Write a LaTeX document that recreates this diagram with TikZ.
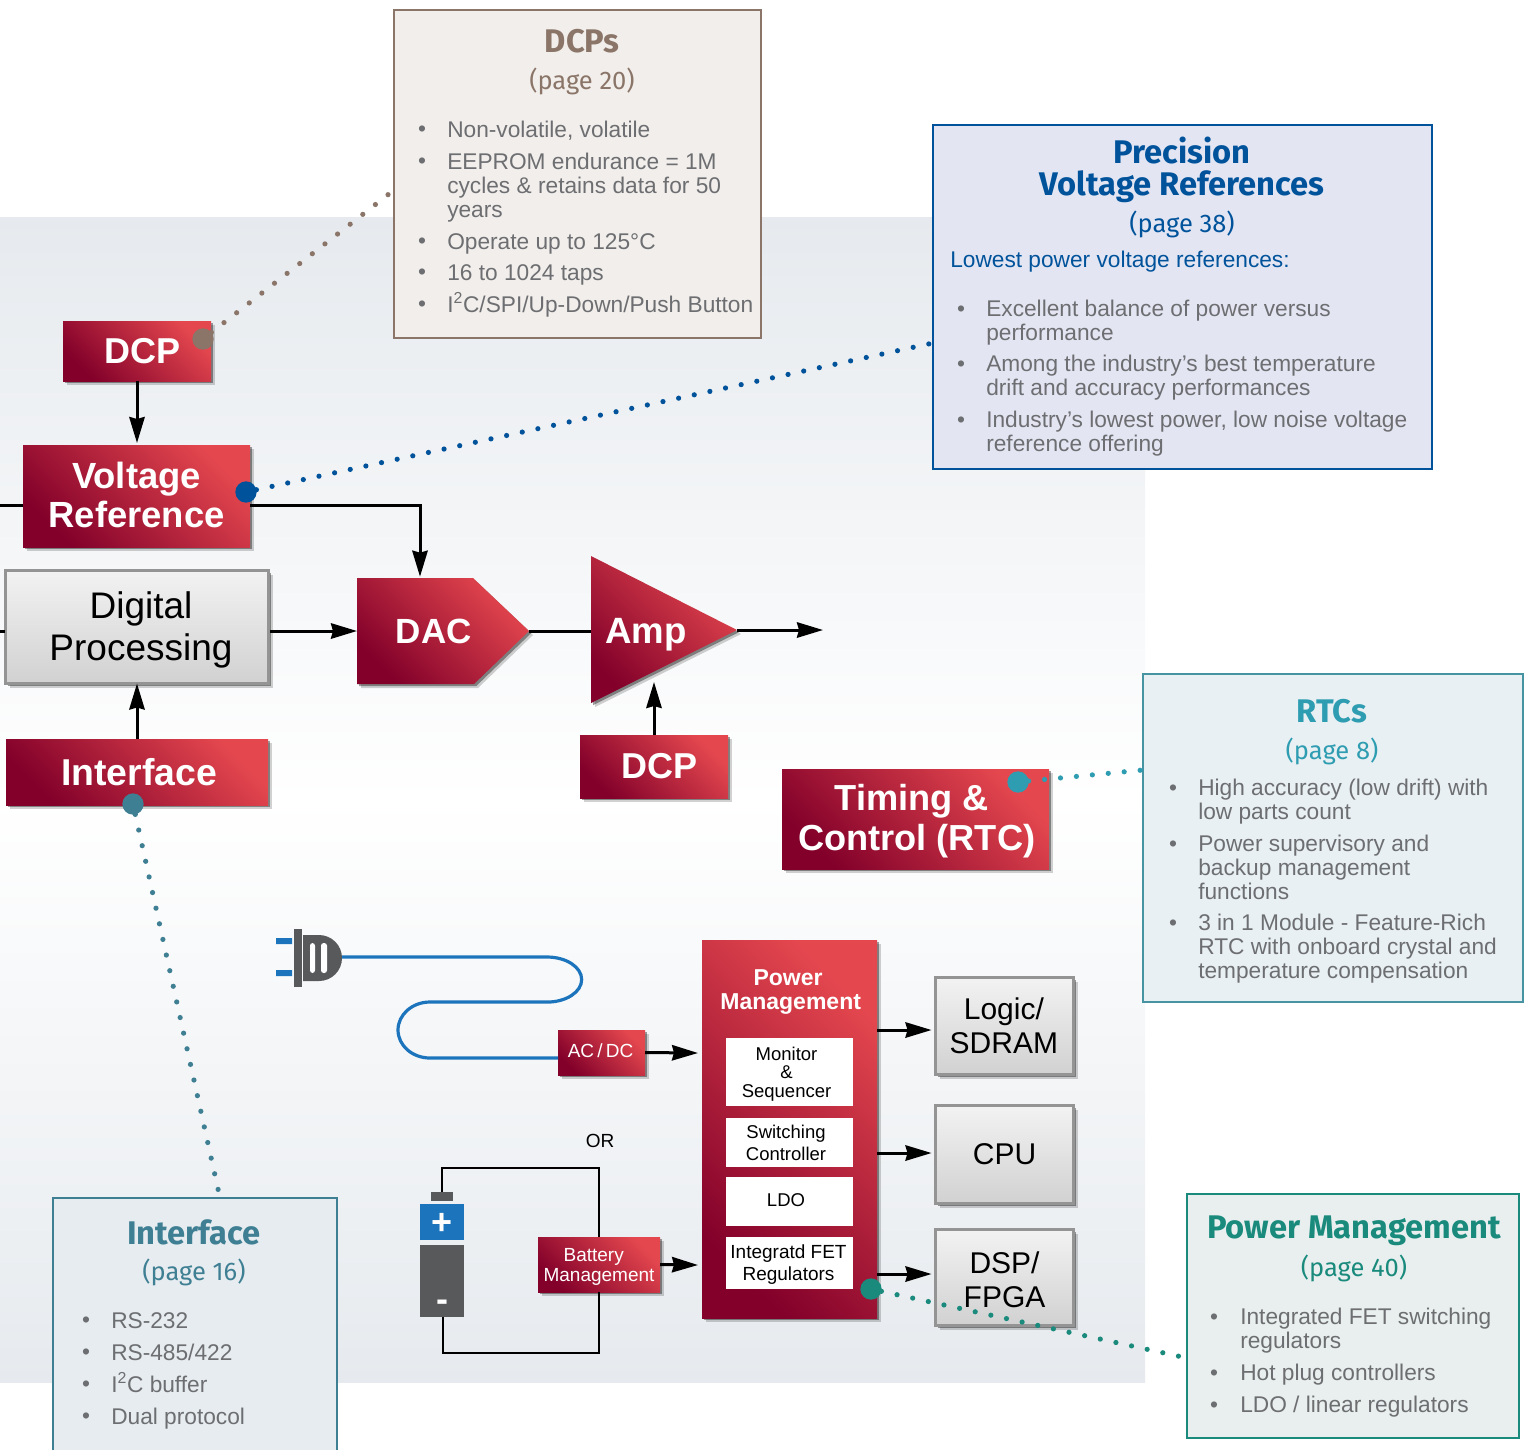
\documentclass[tikz,border=0pt]{standalone}
\usepackage{fontspec}
\setmainfont{Liberation Sans}
\newfontfamily\din{Fira Sans}
\usetikzlibrary{arrows.meta,shadows,calc}
\definecolor{reddark}{HTML}{82002A}
\definecolor{redlight}{HTML}{E4474E}
\definecolor{bodygray}{HTML}{6D6E71}
\definecolor{dcpc}{HTML}{8A7568}
\definecolor{precc}{HTML}{00539B}
\definecolor{rtcc}{HTML}{2E9CB1}
\definecolor{pmc}{HTML}{1A8A7D}
\definecolor{ifc}{HTML}{3F7F93}
\definecolor{plugc}{HTML}{58595B}
\definecolor{cordc}{HTML}{1C75BC}
\definecolor{bgedge}{HTML}{E6EAEE}
\definecolor{dcpfill}{HTML}{F2EEEB}
\definecolor{precfill}{HTML}{E3E5F2}
\definecolor{rtcfill}{HTML}{E8F0F3}
\definecolor{pmfill}{HTML}{E8EFEE}
\definecolor{iffill}{HTML}{E6ECEF}
\newcommand\fz[2]{\fontsize{\dimexpr #1pt*3/4\relax}{\dimexpr #2pt*3/4\relax}\selectfont}
\newcommand\bul[5]{% xbullet, xtext, ycentre, text, ybullet
  \node[bullettext,anchor=west] at (#2,#3+4) {\strut #4\strut};
  \node[bullettext] at (#1,#5+2) {•};}
\tikzset{
  x=0.75pt,y=-0.75pt,
  wh/.style 2 args={minimum width=#1*0.75pt,minimum height=#2*0.75pt,inner sep=0pt,outer sep=0pt},
  softshadow/.style={drop shadow={shadow xshift=3pt,shadow yshift=-3pt,opacity=.18,fill=black},
                     drop shadow={shadow xshift=1.6pt,shadow yshift=-1.6pt,opacity=.38,fill=black}},
  redshade/.style={top color=redlight,bottom color=reddark,shading angle=-45},
  redbox/.style={redshade,softshadow,text=white,align=center,font=\bfseries\fz{36.4}{39}},
  smallred/.style={redshade,softshadow,text=white,align=center,font=\fz{19}{20}},
  graybox/.style={draw=black!42,line width=2.25pt,top color=black!5,bottom color=black!18,softshadow,text=black,align=center},
  whitebox/.style={fill=white,text=black,align=center,font=\fz{18.5}{22}},
  boxtext/.style={inner sep=0pt,align=center},
  callout/.style={line width=.8pt,inner sep=0pt,outer sep=0pt},
  heading/.style={font=\din\bfseries\fz{32.7}{32},align=center,inner sep=0pt},
  pageref/.style={font=\din\fz{25.5}{27},inner sep=0pt},
  bullettext/.style={font=\fz{22.7}{24},text=bodygray,align=left,inner sep=0pt},
  arr/.style={line width=2.25pt,-{Stealth[length=19.5pt,width=11.5pt,inset=1.5pt]}},
  plain/.style={line width=2.25pt},
  wire/.style={line width=1.5pt},
  cord/.style={line width=2.4pt,cordc},
  dotted line/.style={line width=3.9pt,line cap=round,dash pattern=on 0pt off 12pt,#1},
  pin/.style={circle,fill=#1,minimum size=16pt,inner sep=0pt,outer sep=0pt},
}
\begin{document}
\begin{tikzpicture}
\useasboundingbox (0,0) rectangle (1526,1450);
% background panel
\shade[top color=bgedge,bottom color=white] (0,217) rectangle (1145,801);
\shade[top color=white,bottom color=bgedge] (0,800) rectangle (1145,1382);

% callouts
\node[callout,draw=dcpc,fill=dcpfill,wh={367}{328}] (dcps) at (577.5,174) {};
\node[heading,text=dcpc] (dcpst) at (582,41) {DCPs};
\node[pageref,text=dcpc] (dcpsp) at (582,81) {(page 20)};
\bul{422}{447}{129}{Non-volatile, volatile}{129}
\bul{422}{447}{185}{EEPROM endurance = 1M\\cycles \& retains data for 50\\years}{161}
\bul{422}{447}{241}{Operate up to 125°C}{241}
\bul{422}{447}{272}{16 to 1024 taps}{272}
\bul{422}{447}{302}{I\textsuperscript{2}C/SPI/Up-Down/Push Button}{304}

\node[callout,draw=precc,fill=precfill,wh={499}{344}] (prec) at (1182.5,297) {};
\node[heading,text=precc] (prect) at (1182,169.5) {Precision\\Voltage References};
\node[pageref,text=precc] (precp) at (1182,224) {(page 38)};
\node[anchor=west,inner sep=0pt,text=precc,font=\fz{22.7}{24}] (precs) at (950,262) {Lowest power voltage references:};
\bul{961}{986}{320}{Excellent balance of power versus\\performance}{309}
\bul{961}{986}{375}{Among the industry’s best temperature\\drift and accuracy performances}{364}
\bul{961}{986}{431}{Industry’s lowest power, low noise voltage\\reference offering}{420}

\node[callout,draw=rtcc!70!gray,fill=rtcfill,wh={380}{328}] (rtcs) at (1333,838) {};
\node[heading,text=rtcc] (rtcst) at (1332,711) {RTCs};
\node[pageref,text=rtcc] (rtcsp) at (1332,751) {(page 8)};
\bul{1173}{1198}{799}{High accuracy (low drift) with\\low parts count}{788}
\bul{1173}{1198}{867}{Power supervisory and\\backup management\\functions}{844}
\bul{1173}{1198}{946}{3 in 1 Module - Feature-Rich\\RTC with onboard crystal and\\temperature compensation}{923}

\node[callout,draw=pmc,fill=pmfill,wh={332}{244}] (pmcall) at (1353,1316) {};
\node[heading,text=pmc] (pmt) at (1354,1231) {Power Management};
\node[pageref,text=pmc] (pmp) at (1354,1268) {(page 40)};
\bul{1214}{1240}{1328}{Integrated FET switching\\regulators}{1317}
\bul{1214}{1240}{1372}{Hot plug controllers}{1373}
\bul{1214}{1240}{1404}{LDO / linear regulators}{1405}

\fill[iffill] (53,1198) rectangle (337,1450);
\draw[ifc,line width=.8pt] (53,1450) -- (53,1198) -- (337,1198) -- (337,1450);
\coordinate (ifcall) at (220,1198);
\node[heading,text=ifc] (ift) at (194,1232) {Interface};
\node[pageref,text=ifc] (ifp) at (194,1272) {(page 16)};
\bul{86}{111}{1320}{RS-232}{1320}
\bul{86}{111}{1352}{RS-485/422}{1352}
\bul{86}{111}{1382}{I\textsuperscript{2}C buffer}{1384}
\bul{86}{111}{1416}{Dual protocol}{1416}

% signal chain blocks
\node[redbox,wh={148}{60},font=\bfseries\fz{36}{39}] (dcpa) at (137,351) {\hspace*{8pt}DCP};
\node[redbox,wh={227}{102}] (vref) at (136.5,496) {};
\node[boxtext,text=white,font=\bfseries\fz{36.4}{39}] (vreft) at (136.5,495) {Voltage\\Reference};
\node[graybox,wh={263}{113}] (digi) at (137,627) {};
\node[boxtext,font=\fz{37}{42}] (digit) at (141,630) {Digital\\Processing};
\node[redbox,wh={262}{66},font=\bfseries\fz{37.4}{39}] (iface) at (137,772) {\hspace*{3pt}Interface};
\path[redshade,softshadow] (357,578) -- (473,578) -- (529,631) -- (474,684) -- (357,684) -- cycle;
\node[wh={172}{106},text=white,font=\bfseries\fz{35}{35}] (dac) at (443,631) {\hspace*{-14pt}DAC};
\path[redshade,softshadow] (591,556) -- (737,630) -- (591,703) -- cycle;
\node[wh={146}{147},text=white,font=\bfseries\fz{36.6}{36}] (amp) at (664,635) {\hspace*{-27pt}Amp};
\node[redbox,wh={148}{63},font=\bfseries\fz{36}{39}] (dcpb) at (654,766.5) {\hspace*{8pt}DCP};
\node[redbox,wh={267}{100}] (rtcb) at (915.5,819) {};
\node[boxtext,text=white,font=\bfseries\fz{36.2}{40}] (rtct) at (916,821) {\hspace*{-6pt}Timing \&\\\hspace*{1pt}Control (RTC)};

% power section
\node[redshade,softshadow,wh={175}{378}] (pm) at (789.5,1129) {};
\node[boxtext,text=white,font=\bfseries\fz{23}{24}] (pmtitle) at (788,992) {Power\\\hspace*{4pt}Management};
\node[whitebox,wh={127}{68}] (mon) at (789.5,1072) {};
\node[boxtext,font=\fz{18.5}{18.3}] (mont) at (786.5,1074) {Monitor\\\&\\Sequencer};
\node[whitebox,wh={127}{49}] (sw) at (789.5,1142.5) {};
\node[boxtext,font=\fz{18.5}{22}] (swt) at (786,1143) {Switching\\Controller};
\node[whitebox,wh={127}{49}] (ldo) at (789.5,1201.5) {};
\node[boxtext,font=\fz{18.5}{22}] (ldot) at (786,1200.5) {LDO};
\node[whitebox,wh={127}{52}] (fet) at (789.5,1263) {};
\node[boxtext,font=\fz{19}{22}] (fett) at (788.5,1265) {Integratd FET\\Regulators};
\node[graybox,wh={138}{97},font=\fz{30}{34}] (logic) at (1004.5,1026) {\hspace*{-1pt}Logic/\\\hspace*{-1pt}SDRAM};
\node[graybox,wh={138}{98},font=\fz{30}{34}] (cpu) at (1004.5,1154.5) {CPU};
\node[graybox,wh={138}{96}] (dsp) at (1004.5,1277.5) {};
\node[boxtext,font=\fz{30}{34}] (dspt) at (1004.5,1280) {DSP/\\FPGA};
\node[smallred,wh={87}{45}] (acdc) at (601.5,1052.5) {};
\node[boxtext,text=white,font=\fz{19}{20}] (acdct) at (600.5,1051) {AC\,/\,DC};
\node[redshade,softshadow,wh={122}{55}] (batm) at (599,1264.5) {};
\node[boxtext,text=white,font=\fz{19}{19.5}] (batmt) at (599,1267) {\hspace*{-8pt}Battery\\Management};
\node[inner sep=0pt,font=\fz{19}{20}] (orl) at (600,1141) {OR};

% battery
\fill[plugc] (431,1192) rectangle (453,1201);
\node[fill=cordc,wh={44}{36}] (batp) at (442,1222) {};
\node[inner sep=0pt,text=white,font=\bfseries\fz{36}{34}] (batplus) at (442,1224) {+};
\node[fill=plugc,wh={44}{72}] (batn) at (442,1281) {};
\node[inner sep=0pt,text=white,font=\bfseries\fz{36}{32}] (batm2) at (442,1306) {-};
\coordinate (batt) at (442,1192);
\coordinate (batb) at (443,1317);
\draw[wire] (batt) -- (442,1168) -- (599,1168) -- (batm.north);
\draw[wire] (batb) -- (443,1353) -- (599,1353) -- (batm.south);

% plug and cord
\fill[cordc] (276,938) rectangle (292,944) (276,970) rectangle (292,976);
\fill[plugc] (294,929) rectangle (302,987);
\fill[plugc] (303,935) -- (319,935) arc[start angle=90,end angle=-90,radius=17.25pt] -- (303,981) -- cycle;
\fill[white,rounded corners=2pt] (310,943) rectangle (315,973) (321,943) rectangle (327,973);
\coordinate (plugend) at (342,957);
\draw[cord] (plugend) -- (547,957) arc[start angle=90,end angle=-90,x radius=26pt,y radius=16.9pt] -- (430,1002) arc[start angle=90,end angle=270,x radius=24pt,y radius=21pt] -- (acdc.west |- 0,1058);

% connectors
\draw[arr,shorten >=1.5pt] (dcpa.south) -- (dcpa.south |- vref.north);
\coordinate (vrefr) at (250,505);
\coordinate (vrefl) at (23,505);
\coordinate (edgel) at (0,505);
\draw[plain] (edgel) -- (vrefl);
\draw[arr,shorten >=1pt] (vrefr) -| (420,578);
\coordinate (digl) at (5,631);
\coordinate (digr) at (270,631);
\coordinate (edgem) at (0,631);
\draw[plain] (edgem) -- (digl);
\draw[arr] (digr) -- (357,631);
\draw[plain] (529,631) -- (591,631);
\coordinate (ampo) at (737,630);
\coordinate (out) at (823,630);
\draw[arr] (ampo) -- (out);
\coordinate (ampi) at (654,682);
\draw[arr] (dcpb.north) -- (ampi);
\draw[arr] (iface.north) -- (iface.north |- digi.south);
\coordinate (pmin) at (698,1053);
\coordinate (pmin2) at (698,1265);
\draw[arr] (acdc.east) -- (pmin);
\draw[arr] (batm.east) -- (pmin2);
\coordinate (pmo1) at (877,1030);
\coordinate (pmo2) at (877,1153);
\coordinate (pmo3) at (877,1274);
\draw[arr,shorten >=3pt] (pmo1) -- (logic.west |- pmo1);
\draw[arr,shorten >=3pt] (pmo2) -- (cpu.west |- pmo2);
\draw[arr,shorten >=3pt] (pmo3) -- (dsp.west |- pmo3);

% dotted leaders
\node[pin=dcpc] (pina) at (203,339) {};
\node[pin=precc] (pinb) at (246,492) {};
\node[pin=rtcc] (pinc) at (1018,782) {};
\node[pin=ifc] (pind) at (133,804) {};
\node[pin=pmc] (pine) at (871,1289) {};
\coordinate (dcpsend) at (394,190);
\coordinate (precend) at (933,343);
\coordinate (rtcend) at (1143,770);
\coordinate (pmend) at (1187,1358);
\draw[dotted line=dcpc] (pina) -- (dcpsend);
\draw[dotted line=precc] (pinb) -- (precend);
\draw[dotted line=rtcc] (pinc) -- (rtcend);
\draw[dotted line=ifc] (pind) -- (ifcall);
\draw[dotted line=pmc] (pine) -- (pmend);
\end{tikzpicture}
\end{document}
